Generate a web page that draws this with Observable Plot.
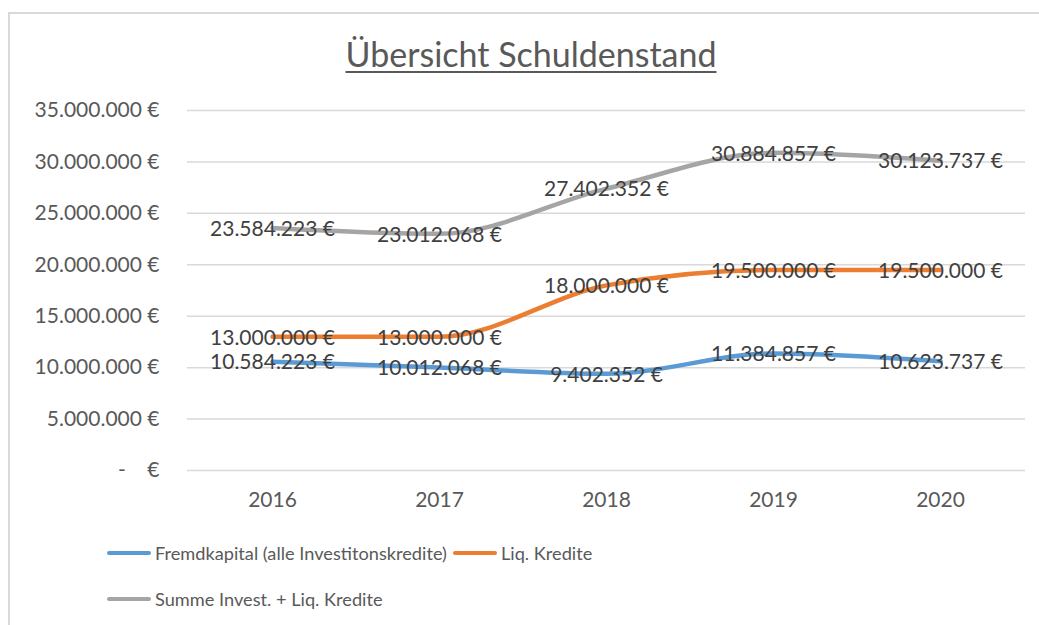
<!DOCTYPE html>
<html>
<head>
<meta charset="utf-8">
<script src="https://cdn.jsdelivr.net/npm/d3@7"></script>
<script src="https://cdn.jsdelivr.net/npm/@observablehq/plot@0.6"></script>
<style>
  html, body { margin: 0; padding: 0; background: #fff; }
  body { width: 1039px; height: 625px; position: relative; overflow: hidden; font-family: Lato, "Open Sans", sans-serif; }
  #frame { position: absolute; left: 8px; top: 12px; width: 1040px; height: 620px; border-left: 2px solid #d9d9d9; border-top: 2px solid #d9d9d9; }
  #title { position: absolute; left: 0; width: 1062px; top: 33px; text-align: center; font-size: 34px; color: #595959; text-decoration: underline; text-decoration-thickness: 2px; text-underline-offset: 4px; }
  #chart { position: absolute; left: 0; top: 90px; }
  .legrow { position: absolute; left: 107px; display: flex; align-items: center; font-size: 18.2px; color: #595959; white-space: nowrap; }
  .leg { display: flex; align-items: center; margin-right: 6px; }
  .sw { width: 44px; height: 4.5px; border-radius: 2.5px; margin-right: 4px; }
</style>
</head>
<body>
<div id="frame"></div>
<div id="title">Übersicht Schuldenstand</div>
<div id="chart"></div>
<div class="legrow" style="top:542px;">
  <div class="leg"><div class="sw" style="background:#5b9bd5"></div>Fremdkapital (alle Investitonskredite)</div>
  <div class="leg"><div class="sw" style="background:#ed7d31"></div>Liq. Kredite</div>
</div>
<div class="legrow" style="top:588px;">
  <div class="leg"><div class="sw" style="background:#a5a5a5"></div>Summe Invest. + Liq. Kredite</div>
</div>
<script>
const years = ["2016", "2017", "2018", "2019", "2020"];
const seriesNames = ["Fremdkapital (alle Investitonskredite)", "Liq. Kredite", "Summe Invest. + Liq. Kredite"];
const fremdkapital = [10584223, 10012068, 9402352, 11384857, 10623737];
const liqKredite = [13000000, 13000000, 18000000, 19500000, 19500000];
const summe = [23584223, 23012068, 27402352, 30884857, 30123737];
const yTicks = [0, 5000000, 10000000, 15000000, 20000000, 25000000, 30000000, 35000000];
const colors = ["#5b9bd5", "#ed7d31", "#a5a5a5"];

const seriesValues = [fremdkapital, liqKredite, summe];
const data = [];
seriesNames.forEach((s, i) => years.forEach((y, j) => data.push({series: s, year: y, value: seriesValues[i][j]})));

const fmtNum = d3.format(",.0f");
const euro = v => v === 0 ? "-    €" : fmtNum(v).replace(/,/g, ".") + " €";

const chart = Plot.plot({
  width: 1039,
  height: 430,
  marginTop: 20,
  marginBottom: 50,
  marginLeft: 187,
  marginRight: 14,
  style: {fontFamily: "Lato, 'Open Sans', sans-serif", background: "transparent"},
  x: {type: "point", domain: years, padding: 0.5, label: null},
  y: {domain: [0, 35000000], label: null},
  color: {domain: seriesNames, range: colors},
  marks: [
    Plot.ruleY(yTicks, {stroke: "#d9d9d9", strokeWidth: 1.5}),
    Plot.axisY({ticks: yTicks, tickSize: 0, tickPadding: 0, dx: -28, tickFormat: euro, fontSize: 21, fill: "#595959", label: null}),
    Plot.axisX({tickSize: 0, tickPadding: 22, fontSize: 21, fill: "#595959", label: null}),
    Plot.line(data, {x: "year", y: "value", z: "series", stroke: "series", strokeWidth: 4.5, curve: "monotone-x", strokeLinecap: "round"}),
    Plot.text(data, {x: "year", y: "value", text: d => euro(d.value), fontSize: 21, fill: "#404040", dy: 1})
  ]
});
document.getElementById("chart").appendChild(chart);
</script>
</body>
</html>
